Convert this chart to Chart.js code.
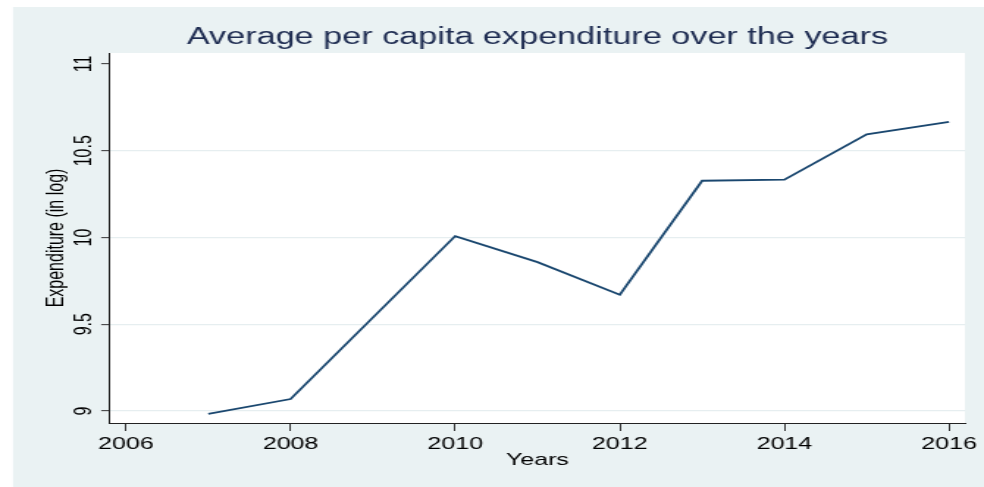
<!DOCTYPE html>
<html>
<head>
<meta charset="utf-8">
<script src="https://cdn.jsdelivr.net/npm/chart.js@4/dist/chart.umd.min.js"></script>
<style>
  html, body { margin: 0; padding: 0; background: #ffffff; }
  #c { display: block; width: 984px; height: 487px; }
</style>
</head>
<body>
<canvas id="c" width="670" height="487" style="width:984px;height:487px"></canvas>
<script>
// ---- data ----
const years = [2007, 2008, 2010, 2011, 2012, 2013, 2014, 2015, 2016];
const expenditure = [8.984, 9.069, 10.008, 9.858, 9.670, 10.327, 10.333, 10.595, 10.667];
const xTicks = [2006, 2008, 2010, 2012, 2014, 2016];
const yTicks = [9, 9.5, 10, 10.5, 11];
const chartTitle = 'Average per capita expenditure over the years';
const xTitle = 'Years';
const yTitle = 'Expenditure (in log)';

const FONT = "'Liberation Sans', Arial, Helvetica, sans-serif";

const bandPlugin = {
  id: 'band',
  beforeDraw(chart) {
    const ctx = chart.ctx;
    const a = chart.chartArea;
    ctx.save();
    ctx.fillStyle = '#ffffff';
    ctx.fillRect(0, 0, chart.width, chart.height);
    ctx.fillStyle = '#eaf2f3';
    ctx.fillRect(8.85, 7, chart.width - 8.85, chart.height - 7);
    ctx.fillStyle = '#ffffff';
    ctx.fillRect(a.left, a.top, a.right - a.left, a.bottom - a.top);
    ctx.restore();
  }
};

new Chart(document.getElementById('c'), {
  type: 'line',
  data: {
    datasets: [{
      data: years.map((yr, i) => ({ x: yr, y: expenditure[i] })),
      borderColor: '#1a476f',
      borderWidth: 1.8,
      pointRadius: 0,
      fill: false,
      tension: 0
    }]
  },
  options: {
    responsive: false,
    animation: false,
    devicePixelRatio: 1,
    layout: { padding: { left: 0, right: 13, top: 0, bottom: 0 } },
    plugins: {
      legend: { display: false },
      tooltip: { enabled: false },
      title: {
        display: true,
        text: chartTitle,
        fullSize: false,
        color: '#1f2d52',
        font: { family: FONT, size: 23.3, weight: 'normal' },
        lineHeight: 1.2,
        padding: { top: 24.0, bottom: 1.04 }
      }
    },
    scales: {
      x: {
        type: 'linear',
        min: 2005.806,
        max: 2016.193,
        afterBuildTicks: s => { s.ticks = xTicks.map(v => ({ value: v })); },
        afterFit: s => { s.height = 64; },
        ticks: {
          autoSkip: false, minRotation: 0, maxRotation: 0, padding: 3.3,
          color: '#000', font: { family: FONT, size: 17 },
          callback: v => String(v)
        },
        grid: { drawOnChartArea: false, tickLength: 8, tickColor: '#333', tickWidth: 1 },
        border: { color: '#222', width: 1 },
        title: {
          display: true, text: xTitle, color: '#000',
          font: { family: FONT, size: 17 },
          padding: { top: 0, bottom: 16.8 }
        }
      },
      y: {
        type: 'linear',
        min: 8.9308,
        max: 11.0634,
        afterBuildTicks: s => { s.ticks = yTicks.map(v => ({ value: v })); },
        afterFit: s => { s.width = 74.9; },
        ticks: {
          minRotation: 90, maxRotation: 90, crossAlign: 'center', padding: -4.3,
          color: '#000', font: { family: FONT, size: 16 },
          callback: v => String(v)
        },
        grid: {
          color: c => (c.tick && c.tick.value === 11) ? 'rgba(0,0,0,0)' : '#e6eef0',
          lineWidth: 1.3,
          tickLength: 6, tickColor: '#333', tickWidth: 1
        },
        border: { color: '#222', width: 1 },
        title: {
          display: true, text: yTitle, color: '#000',
          font: { family: FONT, size: 16 },
          padding: { top: 28.6, bottom: 0 }
        }
      }
    }
  },
  plugins: [bandPlugin]
});
</script>
</body>
</html>
